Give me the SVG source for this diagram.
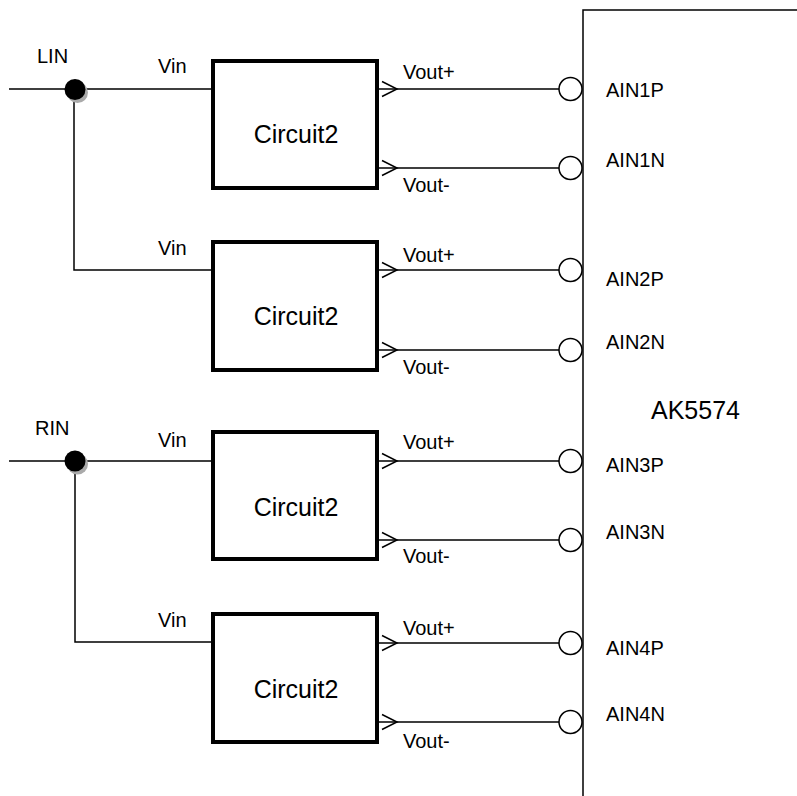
<svg xmlns="http://www.w3.org/2000/svg" width="797" height="796" viewBox="0 0 797 796">
<style>
.w{fill:none;stroke:#000;stroke-width:1.5}
.box{fill:#fff;stroke:#000;stroke-width:4}
.pin{fill:#fff;stroke:#000;stroke-width:1.5}
.t{font-family:"Liberation Sans",Arial,sans-serif;font-size:20px;fill:#000}
.big{font-family:"Liberation Sans",Arial,sans-serif;font-size:25px;fill:#000}
</style>
<defs>
<g id="chev"><polyline class="w" points="-15,-7.5 0,0 -15,7.5"/></g>
</defs>
<rect width="797" height="796" fill="#fff"/>
<g id="connectors">
<path class="w" d="M9,89 H213 M74,89 V270 H213"/>
<path class="w" d="M9,461 H213 M75,461 V642 H213"/>
<path class="w" d="M377,89 H559 M377,168 H559 M377,270 H559 M377,350 H559 M377,461 H559 M377,540 H559 M377,643 H559 M377,722 H559"/>
<use href="#chev" x="397" y="89"/><use href="#chev" x="397" y="168"/>
<use href="#chev" x="397" y="270"/><use href="#chev" x="397" y="350"/>
<use href="#chev" x="397" y="461"/><use href="#chev" x="397" y="540"/>
<use href="#chev" x="397" y="643"/><use href="#chev" x="397" y="722"/>
</g>
<g id="LIN">
<circle cx="77.5" cy="92.5" r="10.5" fill="#aaa"/>
<circle cx="75" cy="89.5" r="10.5" fill="#000"/>
<text class="t" x="37" y="63">LIN</text>
</g>
<g id="RIN">
<circle cx="77.5" cy="464" r="10.5" fill="#aaa"/>
<circle cx="75" cy="461" r="10.5" fill="#000"/>
<text class="t" x="35" y="435">RIN</text>
</g>
<g id="circuit1">
<rect class="box" x="213" y="61" width="164" height="127"/>
<text class="big" x="296" y="143" text-anchor="middle">Circuit2</text>
<text class="t" x="158" y="73">Vin</text>
<text class="t" x="403" y="79">Vout+</text>
<text class="t" x="403" y="192">Vout-</text>
</g>
<g id="circuit2">
<rect class="box" x="213" y="242" width="164" height="128"/>
<text class="big" x="296" y="325" text-anchor="middle">Circuit2</text>
<text class="t" x="158" y="255">Vin</text>
<text class="t" x="403" y="262">Vout+</text>
<text class="t" x="403" y="374">Vout-</text>
</g>
<g id="circuit3">
<rect class="box" x="213" y="432" width="164" height="127"/>
<text class="big" x="296" y="516" text-anchor="middle">Circuit2</text>
<text class="t" x="158" y="447">Vin</text>
<text class="t" x="403" y="449">Vout+</text>
<text class="t" x="403" y="563">Vout-</text>
</g>
<g id="circuit4">
<rect class="box" x="213" y="614" width="164" height="128"/>
<text class="big" x="296" y="698" text-anchor="middle">Circuit2</text>
<text class="t" x="158" y="627">Vin</text>
<text class="t" x="403" y="635">Vout+</text>
<text class="t" x="403" y="748">Vout-</text>
</g>
<g id="AK5574">
<rect class="w" x="583" y="10" width="230" height="800"/>
<text class="big" x="651" y="419">AK5574</text>
<circle class="pin" cx="570.5" cy="89" r="11.5"/>
<circle class="pin" cx="570.5" cy="168" r="11.5"/>
<circle class="pin" cx="570.5" cy="270" r="11.5"/>
<circle class="pin" cx="570.5" cy="350" r="11.5"/>
<circle class="pin" cx="570.5" cy="461" r="11.5"/>
<circle class="pin" cx="570.5" cy="540" r="11.5"/>
<circle class="pin" cx="570.5" cy="643" r="11.5"/>
<circle class="pin" cx="570.5" cy="722" r="11.5"/>
<text class="t" x="606" y="97">AIN1P</text>
<text class="t" x="606" y="167">AIN1N</text>
<text class="t" x="606" y="286">AIN2P</text>
<text class="t" x="606" y="349">AIN2N</text>
<text class="t" x="606" y="472">AIN3P</text>
<text class="t" x="606" y="539">AIN3N</text>
<text class="t" x="606" y="655">AIN4P</text>
<text class="t" x="606" y="721">AIN4N</text>
</g>
</svg>
